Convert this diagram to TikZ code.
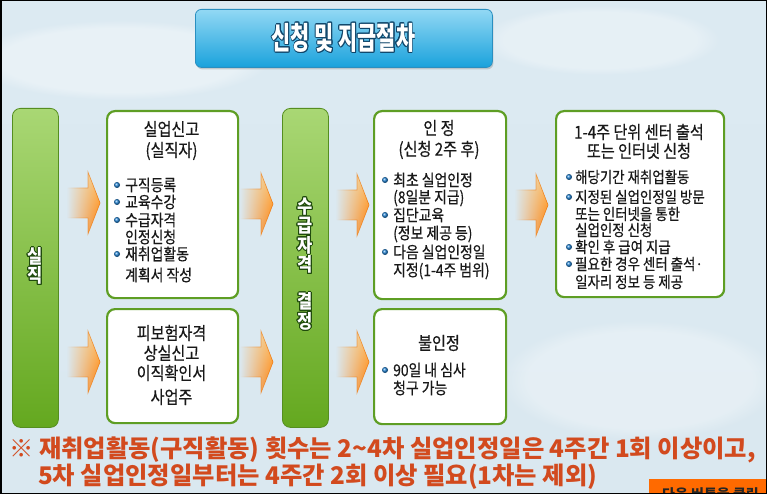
\documentclass[tikz,border=0pt]{standalone}
\usepackage{fontspec}
\setmainfont{Noto Sans CJK KR}[FakeStretch=0.85, FakeBold=0.4]
\newfontfamily\barF{Noto Sans CJK KR}[FakeStretch=0.87]
\newfontfamily\titleF{Noto Sans CJK KR}[FakeStretch=0.67]
\newfontfamily\noteF{Noto Sans CJK KR}[FakeStretch=1.0]
\usepackage{contour}
\contourlength{0.9pt}
\usetikzlibrary{fadings,shadows}
\definecolor{bgtop}{HTML}{DCEAF2}
\definecolor{bgmid}{HTML}{E8F1F6}
\definecolor{bgbot}{HTML}{DAE8F0}
\definecolor{boxgreen}{HTML}{5E9E24}
\definecolor{bartop}{HTML}{A9D774}
\definecolor{barmid}{HTML}{6DB126}
\definecolor{barbot}{HTML}{64A81F}
\definecolor{bardark}{HTML}{1F4A0C}
\definecolor{titletop}{HTML}{92D8F4}
\definecolor{titlebot}{HTML}{1AA2DC}
\definecolor{titleline}{HTML}{2A8FC0}
\definecolor{titledark}{HTML}{10466A}
\definecolor{arrtop}{HTML}{FFC36A}
\definecolor{arrbot}{HTML}{FF7A00}
\definecolor{arrline}{HTML}{EE7A10}
\definecolor{bulblue}{HTML}{1E7FD0}
\definecolor{notered}{HTML}{D24A1E}
\definecolor{btnorange}{HTML}{FF6A00}
\tikzfading[name=arrowfade, left color=transparent!100, middle color=transparent!25, right color=transparent!0]
\tikzset{
  box/.style={draw=boxgreen, line width=2.2pt, fill=white, rounded corners=8pt, anchor=north west, inner sep=0pt},
  bar/.style={draw=boxgreen!90!black, line width=0.8pt, top color=bartop, middle color=barmid, bottom color=barbot, rounded corners=8pt, anchor=north west, inner sep=0pt},
  titlebox/.style={draw=titleline, line width=0.8pt, top color=titletop, bottom color=titlebot, rounded corners=6pt, anchor=north west, inner sep=0pt, drop shadow={shadow xshift=1pt, shadow yshift=-2pt, opacity=0.35}},
  txt/.style={inner sep=0pt, font=\fontsize{16.3}{18}\selectfont, text=black!90},
  txtb/.style={txt, font=\fontsize{15.8}{18}\selectfont},
  txtl/.style={txt, font=\fontsize{17.8}{20}\selectfont},
  bartext/.style={inner sep=0pt, align=center, text=white, font=\barF\bfseries\fontsize{19}{18}\selectfont},
  note/.style={inner sep=0pt, anchor=west, text=notered, font=\noteF\bfseries\fontsize{24.3}{28}\selectfont},
  arrowsty/.style={top color=arrtop, bottom color=arrbot, draw=arrline, line width=0.6pt, path fading=arrowfade}
}
\newcommand\orarrow[2]{%
  \path[arrowsty] (#1,#2-15) -- (#1+21,#2-15) -- (#1+21,#2-31) -- (#1+33,#2) -- (#1+21,#2+31) -- (#1+21,#2+15) -- (#1,#2+15) -- cycle;}
\newcommand\bul[2]{\shade[ball color=bulblue] (#1,#2) circle (3pt);}
\begin{document}
\begin{tikzpicture}[x=1pt,y=-1pt]
\useasboundingbox (0,0) rectangle (767,494);
% background
\fill[top color=bgtop, middle color=bgmid, bottom color=bgbot] (0,0) rectangle (767,494);
\fill[white, opacity=0.35, path fading=circle with fuzzy edge 20 percent] (120,60) ellipse (150pt and 40pt);
\fill[white, opacity=0.3, path fading=circle with fuzzy edge 20 percent] (600,40) ellipse (120pt and 35pt);
\fill[white, opacity=0.3, path fading=circle with fuzzy edge 20 percent] (640,380) ellipse (140pt and 60pt);

% title
\node[titlebox, minimum width=297pt, minimum height=58pt] (title) at (195,9) {};
\node[inner sep=0pt, text=white, font=\titleF\bfseries\fontsize{31}{34}\selectfont] (titlet) at (343.5,38) {\contour{titledark}{신청 및 지급절차}};

% bars
\node[bar, minimum width=46pt, minimum height=319pt] (bar1) at (12,108) {};
\node[bartext, font=\barF\bfseries\fontsize{19}{19}\selectfont] (bar1t) at (35,266.5) {\contour{bardark}{실}\\\contour{bardark}{직}};
\node[bar, minimum width=46pt, minimum height=319pt] (bar2) at (282,108) {};
\node[bartext] (bar2t) at (305,264.5) {\contour{bardark}{수}\\\contour{bardark}{급}\\\contour{bardark}{자}\\\contour{bardark}{격}\\[17pt]\contour{bardark}{결}\\\contour{bardark}{정}};

% boxes
\node[box, minimum width=131pt, minimum height=187pt] (b1) at (106,110) {};
\node[box, minimum width=131pt, minimum height=114pt] (b2) at (106,308) {};
\node[box, minimum width=132pt, minimum height=188pt] (b3) at (373,110) {};
\node[box, minimum width=132pt, minimum height=115pt] (b4) at (373,308) {};
\node[box, minimum width=168pt, minimum height=186pt] (b5) at (555,110) {};

% arrows
\orarrow{67}{203}
\orarrow{240}{204}
\orarrow{336}{205}
\orarrow{515}{205}
\orarrow{67}{362}
\orarrow{240}{362}
\orarrow{336}{362}

% box 1
\node[txtl] (b1h1) at (171.5,129) {실업신고};
\node[txtl] (b1h2) at (171.5,151) {(실직자)};
\bul{117}{185}\bul{117}{202}\bul{117}{220}\bul{117}{254}
\node[txt, anchor=west] (b1l1) at (125,185) {구직등록};
\node[txt, anchor=west] (b1l2) at (125,202) {교육수강};
\node[txt, anchor=west] (b1l3) at (125,220) {수급자격};
\node[txt, anchor=west] (b1l4) at (125,237) {인정신청};
\node[txt, anchor=west] (b1l5) at (125,254) {재취업활동};
\node[txt, anchor=west] (b1l6) at (125,275) {계획서 작성};

% box 2
\node[txtl] (b2l1) at (171.5,333) {피보험자격};
\node[txtl] (b2l2) at (171.5,353) {상실신고};
\node[txtl] (b2l3) at (171.5,373) {이직확인서};
\node[txtl] (b2l4) at (171.5,397) {사업주};

% box 3
\node[txtl] (b3h1) at (439,128) {인 정};
\node[txtl] (b3h2) at (439,150) {(신청 2주 후)};
\bul{385}{180}\bul{385}{215}\bul{385}{252}
\node[txt, anchor=west] (b3l1) at (393,180) {최초 실업인정};
\node[txt, anchor=west] (b3l2) at (393,198) {(8일분 지급)};
\node[txt, anchor=west] (b3l3) at (393,215) {집단교육};
\node[txt, anchor=west] (b3l4) at (393,234) {(정보 제공 등)};
\node[txt, anchor=west] (b3l5) at (393,252) {다음 실업인정일};
\node[txt, anchor=west] (b3l6) at (393,271) {지정(1-4주 범위)};

% box 4
\node[txtl] (b4h1) at (439,343) {불인정};
\bul{385}{370}
\node[txt, anchor=west] (b4l1) at (393,370) {90일 내 심사};
\node[txt, anchor=west] (b4l2) at (393,388) {청구 가능};

% box 5
\node[txtl] (b5h1) at (639,132) {1-4주 단위 센터 출석};
\node[txtl] (b5h2) at (639,151) {또는 인터넷 신청};
\bul{569}{177}\bul{569}{197}\bul{569}{247}\bul{569}{264}
\node[txtb, anchor=west] (b5l1) at (575,177) {해당기간 재취업활동};
\node[txtb, anchor=west] (b5l2) at (575,197) {지정된 실업인정일 방문};
\node[txtb, anchor=west] (b5l3) at (575,214) {또는 인터넷을 통한};
\node[txtb, anchor=west] (b5l4) at (575,230) {실업인정 신청};
\node[txtb, anchor=west] (b5l5) at (575,247) {확인 후 급여 지급};
\node[txtb, anchor=west] (b5l6) at (575,264) {필요한 경우 센터 출석·};
\node[txtb, anchor=west] (b5l7) at (575,282) {일자리 정보 등 제공};

% note
\node[note] (n1) at (9,450) {※ 재취업활동(구직활동) 횟수는 2\textasciitilde 4차 실업인정일은 4주간 1회 이상이고,};
\node[note] (n2) at (38,477) {5차 실업인정일부터는 4주간 2회 이상 필요(1차는 제외)};

% button (cut off)
\begin{scope}
\clip (649,479) rectangle (767,494);
\fill[btnorange] (649,479) rectangle (767,494);
\node[inner sep=0pt, anchor=west, text=black!85, font=\noteF\bfseries\fontsize{14}{16}\selectfont] (btn) at (662,494) {다음 버튼을 클릭};
\end{scope}

% frame
\draw[black, line width=3pt] (0,0) rectangle (767,494);
\end{tikzpicture}
\end{document}
